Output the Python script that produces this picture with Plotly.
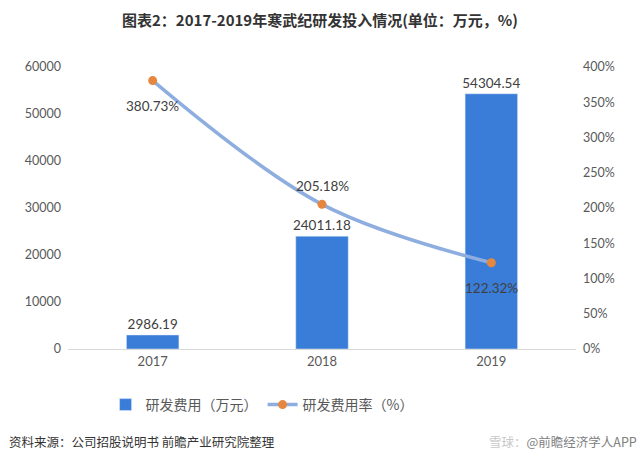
import plotly.graph_objects as go

years = ["2017", "2018", "2019"]
rd_cost = [2986.19, 24011.18, 54304.54]
rd_rate = [380.73, 205.18, 122.32]
cost_labels = ["2986.19", "24011.18", "54304.54"]
rate_labels = ["380.73%", "205.18%", "122.32%"]
rate_shift = [-25, 18, -25]
left_ticks = [0, 10000, 20000, 30000, 40000, 50000, 60000]
right_ticks = [0, 50, 100, 150, 200, 250, 300, 350, 400]
right_tick_text = ["0%", "50%", "100%", "150%", "200%", "250%", "300%", "350%", "400%"]

FONT = "Lato, 'Noto Sans CJK SC', sans-serif"
CJK = "'Noto Sans CJK SC', sans-serif"

fig = go.Figure()
fig.add_trace(go.Bar(
    x=years, y=rd_cost, name="研发费用（万元）",
    marker=dict(color="#3A7DD9"), width=0.31,
    text=cost_labels, textposition="outside", cliponaxis=False,
    constraintext="none",
    textfont=dict(size=13.5, color="#404040", family=FONT),
))
fig.add_trace(go.Scatter(
    x=years, y=rd_rate, name="研发费用率（%）", yaxis="y2",
    mode="lines+markers",
    line=dict(color="#8EAEDF", width=3.5, shape="spline", smoothing=1.0),
    marker=dict(color="#E5873F", size=9),
    cliponaxis=False,
))
for i, (y, t, s) in enumerate(zip(rd_rate, rate_labels, rate_shift)):
    fig.add_annotation(x=i, y=y, xref="x", yref="y2", text=t, showarrow=False,
                       yshift=s, font=dict(size=13.5, color="#404040", family=FONT))

fig.update_layout(
    width=640, height=467,
    margin=dict(l=68, r=64, t=67, b=118),
    paper_bgcolor="white", plot_bgcolor="white",
    font=dict(family=FONT, color="#595959", size=12),
    bargap=0.69,
    title=dict(
        text="<b>图表2：2017-2019年寒武纪研发投入情况(单位：万元，%)</b>",
        x=0.5, xanchor="center", y=(467 - 21) / 467, yanchor="middle",
        yref="container", font=dict(family=CJK, size=15, color="#333333"),
    ),
    xaxis=dict(type="category", showgrid=False, showline=True, linecolor="#D9D9D9",
               linewidth=1, ticks="", tickfont=dict(size=13, color="#595959")),
    yaxis=dict(range=[0, 60000], tickvals=left_ticks, tickformat="d",
               showgrid=False, zeroline=False, showline=False,
               tickfont=dict(size=12.5, color="#595959"), ticklabelstandoff=6),
    yaxis2=dict(range=[0, 400], tickvals=right_ticks, ticktext=right_tick_text,
                overlaying="y", side="right", showgrid=False, zeroline=False,
                showline=False, tickfont=dict(size=12.5, color="#595959"),
                ticklabelstandoff=6),
    legend=dict(orientation="h", x=(106 - 68.5) / 507, xanchor="left",
                y=(349 - 405) / 282, yanchor="middle",
                font=dict(family=CJK, size=14, color="#595959"),
                itemwidth=30, tracegroupgap=0),
    showlegend=True,
)

fig.add_annotation(
    text="资料来源：公司招股说明书 前瞻产业研究院整理",
    xref="paper", yref="paper", x=(8 - 68.5) / 507, y=(349 - 441) / 282,
    xanchor="left", yanchor="middle", showarrow=False,
    font=dict(family=CJK, size=12.5, color="#333333"),
)
fig.add_annotation(
    text="<span style='color:#C8C8C8'>雪球：</span>@前瞻经济学人APP",
    xref="paper", yref="paper", x=(638 - 68.5) / 507, y=(349 - 441) / 282,
    xanchor="right", yanchor="middle", showarrow=False,
    font=dict(family=CJK, size=12.5, color="#808080"),
)

fig.write_html("out.html")
